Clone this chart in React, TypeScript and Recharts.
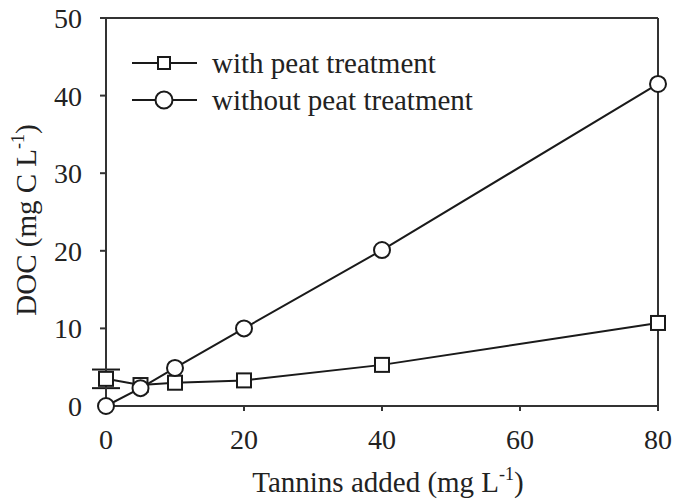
import { LineChart, Line, XAxis, YAxis, ErrorBar, ReferenceLine, Legend, Label } from "recharts"

// DOC measured against tannin dose, with and without peat treatment
const tannins = [0, 5, 10, 20, 40, 80]
const withPeat = [3.5, 2.7, 3.0, 3.3, 5.3, 10.7]
const withPeatErr = [1.2, 0, 0, 0, 0, 0]
const withoutPeat = [0, 2.3, 4.9, 10.0, 20.1, 41.5]
const xTicks = [0, 20, 40, 60, 80]
const yTicks = [0, 10, 20, 30, 40, 50]

const data = tannins.map((t, i) => ({
  tannins: t,
  peat: withPeat[i],
  peatErr: withPeatErr[i],
  noPeat: withoutPeat[i],
}))

const INK = "#1a1a1a"
const AXIS = "#333"
const TEXT = "#222"
const FONT = "'Liberation Serif', serif"

const SquareDot = (props: any) => {
  const { cx, cy, index } = props
  if (cx == null || cy == null) return null
  return <rect key={`sq-${index}`} x={cx - 7} y={cy - 7} width={14} height={14} fill="#fff" stroke={INK} strokeWidth={2} />
}

const CircleDot = (props: any) => {
  const { cx, cy, index } = props
  if (cx == null || cy == null) return null
  return <circle key={`ci-${index}`} cx={cx} cy={cy} r={8} fill="#fff" stroke={INK} strokeWidth={2} />
}

const LegendBox = (props: any) => {
  const items = props.payload || []
  return (
    <svg width={420} height={90} style={{ fontFamily: FONT, display: "block" }}>
      {items.map((item: any, i: number) => {
        const y = 16 + i * 37
        return (
          <g key={item.value}>
            <line x1={7} x2={72} y1={y} y2={y} stroke={INK} strokeWidth={2} />
            {item.dataKey === "peat" ? (
              <rect x={33} y={y - 6} width={12} height={12} fill="#fff" stroke={INK} strokeWidth={2} />
            ) : (
              <circle cx={39} cy={y} r={8.5} fill="#fff" stroke={INK} strokeWidth={2} />
            )}
            <text x={87} y={y + 10} fontSize={29} fill={TEXT}>
              {item.value}
            </text>
          </g>
        )
      })}
    </svg>
  )
}

export default function App() {
  return (
    <div style={{ position: "absolute", left: 0, top: 0, background: "#fff" }}>
      <LineChart
        width={673}
        height={502}
        data={data}
        margin={{ top: 18, right: 15, left: 0, bottom: 0 }}
        style={{ fontFamily: FONT }}
      >
        <XAxis
          dataKey="tannins"
          type="number"
          domain={[0, 80]}
          ticks={xTicks}
          height={96}
          stroke={AXIS}
          strokeWidth={2}
          tickSize={5}
          tickMargin={18}
          tick={{ fill: TEXT, fontSize: 28, fontFamily: FONT }}
        >
          <Label
            content={() => (
              <text x={388} y={492} textAnchor="middle" fontSize={29} fill={TEXT} fontFamily={FONT}>
                Tannins added (mg L<tspan dy={-12} fontSize={18}>-1</tspan>
                <tspan dy={12}>)</tspan>
              </text>
            )}
          />
        </XAxis>
        <YAxis
          type="number"
          domain={[0, 50]}
          ticks={yTicks}
          width={106}
          stroke={AXIS}
          strokeWidth={2}
          tickSize={6}
          tickMargin={18}
          tick={{ fill: TEXT, fontSize: 28, fontFamily: FONT }}
        >
          <Label
            content={() => (
              <text
                x={36}
                y={220}
                textAnchor="middle"
                fontSize={29}
                fill={TEXT}
                fontFamily={FONT}
                transform="rotate(-90 36 220)"
              >
                DOC (mg C L<tspan dy={-12} fontSize={18}>-1</tspan>
                <tspan dy={12}>)</tspan>
              </text>
            )}
          />
        </YAxis>
        <ReferenceLine y={50} stroke={AXIS} strokeWidth={2} ifOverflow="visible" />
        <ReferenceLine x={80} stroke={AXIS} strokeWidth={2} ifOverflow="visible" />
        <Legend
          verticalAlign="middle"
          align="center"
          layout="vertical"
          wrapperStyle={{ position: "absolute", left: 125, top: 47, width: 420 }}
          content={LegendBox}
        />
        <Line
          name="with peat treatment"
          dataKey="peat"
          stroke={INK}
          strokeWidth={2}
          dot={SquareDot}
          activeDot={false}
          isAnimationActive={false}
        >
          <ErrorBar dataKey="peatErr" width={14} stroke={INK} strokeWidth={2} direction="y" />
        </Line>
        <Line
          name="without peat treatment"
          dataKey="noPeat"
          stroke={INK}
          strokeWidth={2}
          dot={CircleDot}
          activeDot={false}
          isAnimationActive={false}
        />
      </LineChart>
    </div>
  )
}
